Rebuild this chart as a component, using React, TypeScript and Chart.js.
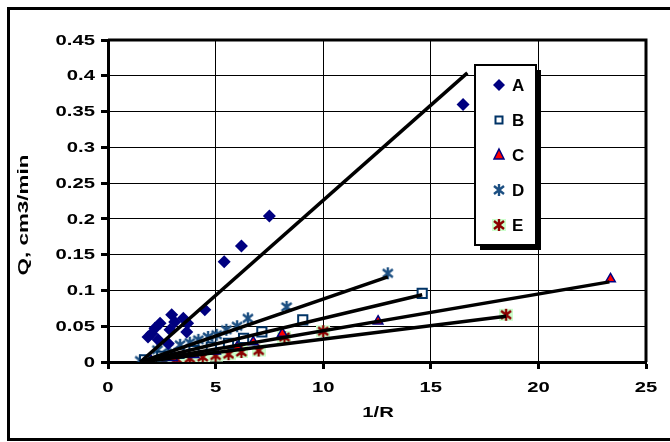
import React, { useEffect, useRef } from "react";
import { Chart, registerables } from "chart.js";
Chart.register(...registerables);

const seriesLabels = ["A", "B", "C", "D", "E"];

const aX = [1.86, 2.03, 2.18, 2.33, 2.42, 2.8, 2.88, 2.96, 3.1, 3.5, 3.66, 3.7, 4.5, 5.4, 6.2, 7.5, 16.5];
const aY = [0.035, 0.04, 0.047, 0.031, 0.054, 0.026, 0.045, 0.066, 0.056, 0.061, 0.042, 0.054, 0.073, 0.14, 0.162, 0.204, 0.36];

const bX = [1.7, 2.5, 3.3, 4.0, 4.8, 5.6, 6.3, 7.15, 9.05, 14.6];
const bY = [0.003, 0.008, 0.012, 0.016, 0.021, 0.026, 0.033, 0.042, 0.059, 0.096];

const cX = [2.0, 3.0, 4.0, 5.0, 6.0, 6.75, 8.1, 12.55, 23.35];
const cY = [0.002, 0.006, 0.01, 0.015, 0.021, 0.028, 0.04, 0.057, 0.116];

const dX = [1.5, 2.3, 2.8, 3.35, 3.8, 4.2, 4.65, 5.05, 5.5, 6.0, 6.5, 8.3, 13.0];
const dY = [0.002, 0.017, 0.02, 0.024, 0.027, 0.031, 0.035, 0.038, 0.045, 0.05, 0.061, 0.077, 0.124];

const eX = [1.9, 2.6, 3.2, 3.8, 4.4, 5.0, 5.6, 6.2, 7.0, 8.2, 10.0, 18.5];
const eY = [0, 0.002, 0.004, 0.005, 0.007, 0.009, 0.011, 0.014, 0.016, 0.035, 0.043, 0.066];

// trend lines (A..E): start and end points
const trendX0 = [1.5, 1.5, 1.5, 1.5, 1.5];
const trendY0 = [0, 0, 0, 0, 0];
const trendX1 = [16.7, 14.6, 23.3, 13.0, 18.5];
const trendY1 = [0.404, 0.094, 0.112, 0.119, 0.064];

const xTickLabels = ["0", "5", "10", "15", "20", "25"];
const yTickLabels = ["0", "0.05", "0.1", "0.15", "0.2", "0.25", "0.3", "0.35", "0.4", "0.45"];
const xTitle = "1/R";
const yTitle = "Q, cm3/min";

const FONT = "'Liberation Sans', Arial, sans-serif";

function pts(xs: number[], ys: number[]) {
  return xs.map((x, i) => ({ x, y: ys[i] }));
}

function makeStar(color: string, bg: string | null) {
  const c = document.createElement("canvas");
  c.width = 14;
  c.height = 14;
  const g = c.getContext("2d")!;
  if (bg) {
    g.fillStyle = bg;
    g.fillRect(0, 1, 14, 12);
  }
  g.strokeStyle = color;
  g.lineWidth = 2.4;
  g.beginPath();
  g.moveTo(7, 1);
  g.lineTo(7, 13);
  g.moveTo(2, 3);
  g.lineTo(12, 11);
  g.moveTo(2, 11);
  g.lineTo(12, 3);
  g.stroke();
  return c;
}

export default function App() {
  const ref = useRef<HTMLCanvasElement>(null);
  useEffect(() => {
    document.body.style.overflow = "hidden";
    const canvas = ref.current!;
    const starD = makeStar("#1C4F82", null);
    const starE = makeStar("#8B0000", "#CCFFCC");

    const trendSets = seriesLabels.map((l, i) => ({
      label: "trend " + l,
      data: [
        { x: trendX0[i], y: trendY0[i] },
        { x: trendX1[i], y: trendY1[i] },
      ],
      showLine: true,
      borderColor: "#000",
      borderWidth: 3.5,
      pointRadius: 0,
      order: 0,
    }));

    const markerSets: any[] = [
      { label: seriesLabels[0], data: pts(aX, aY), pointStyle: "rectRot", radius: 6.5, backgroundColor: "#000080", borderColor: "#000080", borderWidth: 0, order: 1 },
      { label: seriesLabels[1], data: pts(bX, bY), pointStyle: "rect", radius: 6.5, backgroundColor: "#FFFFFF", borderColor: "#003366", borderWidth: 2, order: 1 },
      { label: seriesLabels[2], data: pts(cX, cY), pointStyle: "triangle", radius: 5.5, backgroundColor: "#FF0000", borderColor: "#000080", borderWidth: 1.5, order: 1 },
      { label: seriesLabels[3], data: pts(dX, dY), pointStyle: starD, radius: 7, order: 1 },
      { label: seriesLabels[4], data: pts(eX, eY), pointStyle: starE, radius: 7, order: 1 },
    ];

    const deco = {
      id: "deco",
      beforeDatasetsDraw(chart: any) {
        const { ctx, chartArea: a } = chart;
        ctx.save();
        ctx.strokeStyle = "#000";
        ctx.lineWidth = 3;
        ctx.beginPath();
        ctx.moveTo(a.left, a.top);
        ctx.lineTo(a.right, a.top);
        ctx.lineTo(a.right, a.bottom);
        ctx.stroke();
        ctx.restore();
      },
      afterDraw(chart: any) {
        const { ctx, scales } = chart;
        const xs = scales.x, ys = scales.y;
        ctx.save();
        ctx.fillStyle = "#000";
        const sx = 1.35;
        ctx.font = `bold 15px ${FONT}`;
        ctx.textBaseline = "middle";
        // y tick labels
        yTickLabels.forEach((t) => {
          const py = ys.getPixelForValue(parseFloat(t));
          ctx.save();
          ctx.translate(95, py + 0.5);
          ctx.scale(sx, 1);
          ctx.textAlign = "right";
          ctx.fillText(t, 0, 0);
          ctx.restore();
        });
        xTickLabels.forEach((t) => {
          const px = xs.getPixelForValue(parseFloat(t));
          ctx.save();
          ctx.translate(px, 388);
          ctx.scale(sx, 1);
          ctx.textAlign = "center";
          ctx.fillText(t, 0, 0);
          ctx.restore();
        });
        // axis titles
        ctx.save();
        ctx.translate(378, 413);
        ctx.scale(sx, 1);
        ctx.textAlign = "center";
        ctx.fillText(xTitle, 0, 0);
        ctx.restore();
        ctx.save();
        ctx.translate(24, 215);
        ctx.rotate(-Math.PI / 2);
        ctx.scale(1.6, 1);
        ctx.font = `bold 14px ${FONT}`;
        ctx.textAlign = "center";
        ctx.fillText(yTitle, 0, 0);
        ctx.restore();

        // legend
        const L = 475, T = 65, R = 536, B = 245;
        ctx.fillStyle = "#000";
        ctx.fillRect(L + 5, T + 5, R - L, B - T);
        ctx.fillStyle = "#fff";
        ctx.fillRect(L, T, R - L, B - T);
        ctx.strokeStyle = "#000";
        ctx.lineWidth = 2;
        ctx.strokeRect(L, T, R - L, B - T);
        const rowY = [85, 120, 155, 190, 225];
        const mx = 499;
        seriesLabels.forEach((lab, i) => {
          const y = rowY[i];
          const ds = markerSets[i];
          if (i === 0) {
            ctx.fillStyle = "#000080";
            ctx.beginPath();
            ctx.moveTo(mx - 6, y);
            ctx.lineTo(mx, y - 6);
            ctx.lineTo(mx + 6, y);
            ctx.lineTo(mx, y + 6);
            ctx.closePath();
            ctx.fill();
          } else if (i === 1) {
            ctx.fillStyle = "#fff";
            ctx.fillRect(mx - 3.5, y - 3.5, 7, 7);
            ctx.strokeStyle = "#003366";
            ctx.lineWidth = 2;
            ctx.strokeRect(mx - 3.5, y - 3.5, 7, 7);
          } else if (i === 2) {
            ctx.fillStyle = "#FF0000";
            ctx.strokeStyle = "#000080";
            ctx.lineWidth = 1.5;
            ctx.beginPath();
            ctx.moveTo(mx, y - 6);
            ctx.lineTo(mx + 5, y + 4);
            ctx.lineTo(mx - 5, y + 4);
            ctx.closePath();
            ctx.fill();
            ctx.stroke();
          } else {
            const img = ds.pointStyle as HTMLCanvasElement;
            ctx.drawImage(img, mx - 7, y - 7);
          }
          ctx.fillStyle = "#000";
          ctx.font = `bold 17px ${FONT}`;
          ctx.textAlign = "left";
          ctx.textBaseline = "middle";
          ctx.fillText(lab, 512, y + 1);
        });
        ctx.restore();
      },
    };

    const gridOpts = { color: "#000", lineWidth: 1, tickLength: 7, tickWidth: 3, tickColor: "#000" };

    const chart = new Chart(canvas, {
      type: "scatter",
      data: { datasets: [...trendSets, ...markerSets] as any },
      options: {
        animation: false,
        responsive: false,
        maintainAspectRatio: false,
        layout: { padding: { left: 0, right: 24, top: 40, bottom: 0 } },
        plugins: { legend: { display: false }, tooltip: { enabled: false } },
        scales: {
          x: {
            type: "linear",
            min: 0,
            max: 25,
            ticks: { stepSize: 5, display: false },
            grid: gridOpts,
            border: { color: "#000", width: 3 },
            afterFit: (s: any) => {
              s.height = 80;
            },
          },
          y: {
            type: "linear",
            min: 0,
            max: 0.45,
            ticks: { stepSize: 0.05, display: false },
            grid: gridOpts,
            border: { color: "#000", width: 3 },
            afterFit: (s: any) => {
              s.width = 108;
            },
          },
        },
      } as any,
      plugins: [deco],
    });
    return () => chart.destroy();
  }, []);

  return (
    <>
      <div
        style={{
          position: "absolute",
          left: 7,
          top: 7,
          width: 700,
          height: 434,
          border: "3px solid #000",
          boxSizing: "border-box",
          background: "#fff",
        }}
      />
      <canvas
        ref={ref}
        width={670}
        height={442}
        style={{ position: "absolute", left: 0, top: 0, width: 670, height: 442 }}
      />
    </>
  );
}
